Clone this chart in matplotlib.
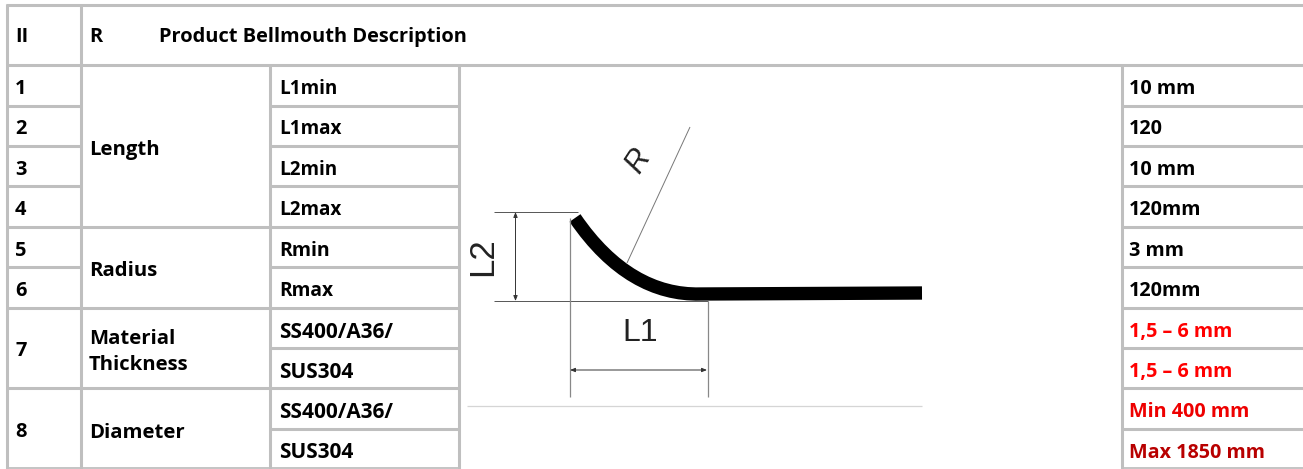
import matplotlib
matplotlib.use("Agg")
import matplotlib.pyplot as plt
from matplotlib.path import Path
from matplotlib.patches import PathPatch

plt.rcParams['font.family'] = ['Open Sans', 'DejaVu Sans']

# Table content
header_no = "II"
header_r = "R"
header_title = "Product Bellmouth Description"
row_numbers = ["1", "2", "3", "4", "5", "6", "7", "8"]
row_number_y = [89, 129, 170, 210, 251, 291, 351, 432]
groups = ["Length", "Radius", "Material\nThickness", "Diameter"]
group_y = [150, 271, 352, 433]
params = ["L1min", "L1max", "L2min", "L2max", "Rmin", "Rmax",
          "SS400/A36/", "SUS304", "SS400/A36/", "SUS304"]
param_sizes = [13.6, 13.6, 13.6, 13.6, 14, 13.8, 15, 15, 15, 15]
values = ["10 mm", "120", "10 mm", "120mm", "3 mm", "120mm",
          "1,5 – 6 mm", "1,5 – 6 mm", "Min 400 mm", "Max 1850 mm"]
value_colors = ["#000000"] * 6 + ["#ff0000", "#ff0000", "#ee0000", "#b80000"]
row_text_y = [89, 129, 170, 210, 251, 291, 332, 372, 412, 453]

# Grid geometry (pixels)
W, H = 1303, 469
col_x = [6.5, 81, 270, 459, 1122]
num_lines = [106, 146, 186, 227, 267, 308, 388]
group_lines = [227, 308, 388]
row_lines = [106, 146, 186, 227, 267, 308, 348, 388, 429]
BOTTOM = 468
GRID = "#bfbfbf"

# Drawing geometry (pixels)
curve_ctrl = [(575, 218), (612, 272), (655, 295), (700, 294)]
flat_end = (922, 293)

fig = plt.figure(figsize=(W / 100, H / 100), dpi=100)
ax = fig.add_axes([0, 0, 1, 1])
ax.set_xlim(0, W)
ax.set_ylim(H, 0)
ax.axis("off")

lw = 2.2
def hl(y, x0, x1, c=GRID, w=lw):
    ax.plot([x0, x1], [y, y], color=c, lw=w, solid_capstyle="butt")
def vl(x, y0, y1, c=GRID, w=lw):
    ax.plot([x, x], [y0, y1], color=c, lw=w, solid_capstyle="butt")

# Table grid
hl(5, 5.5, W)
hl(65, 5.5, W)
vl(col_x[0], 4, H)
vl(col_x[1], 4, H)
vl(col_x[2], 65, H)
vl(col_x[3], 65, H)
vl(col_x[4], 65, H)
for y in num_lines:
    hl(y, col_x[0], col_x[1])
for y in group_lines:
    hl(y, col_x[1], col_x[2])
for y in row_lines:
    hl(y, col_x[2], col_x[3])
    hl(y, col_x[4], W)
hl(BOTTOM, col_x[0], col_x[3], w=1.3)
hl(BOTTOM, col_x[4], W, w=1.3)

bold = dict(fontweight="bold", va="center", ha="left", color="#000000")

ax.text(15, 37, header_no, fontsize=14.4, **bold)
ax.text(89, 37, header_r, fontsize=14.4, **bold)
ax.text(159, 37, header_title, fontsize=14.4, **bold)

for t, y in zip(row_numbers, row_number_y):
    ax.text(15, y, t, fontsize=14.4, **bold)
for t, y in zip(groups, group_y):
    ax.text(89, y, t, fontsize=14.6, linespacing=1.45, **bold)
for t, y, s in zip(params, row_text_y, param_sizes):
    ax.text(279, y, t, fontsize=s, **bold)
for t, y, c in zip(values, row_text_y, value_colors):
    kw = dict(bold)
    kw["color"] = c
    ax.text(1129, y, t, fontsize=14.2, **kw)

# Bellmouth drawing
thin = dict(color="#555555", lw=0.7, solid_capstyle="butt")
ax.plot([494, 578], [212, 212], **thin)
ax.plot([494, 708], [301, 301], **thin)
ax.plot([569.5, 569.5], [218, 397], color="#888888", lw=0.9, solid_capstyle="butt")
ax.plot([707.5, 707.5], [301, 397], color="#888888", lw=0.9, solid_capstyle="butt")
ax.plot([627, 690], [263, 127], color="#777777", lw=0.7, solid_capstyle="butt")
ax.plot([467, 922], [406.5, 406.5], color="#d5d5d5", lw=0.9, solid_capstyle="butt")

arrow = dict(arrowstyle="<|-|>,head_width=0.12,head_length=0.3", color="#333333",
             lw=0.7, shrinkA=0, shrinkB=0)
ax.annotate("", xy=(515.5, 212), xytext=(515.5, 301), arrowprops=arrow)
ax.annotate("", xy=(570, 370), xytext=(707, 370), arrowprops=arrow)

codes = [Path.MOVETO, Path.CURVE4, Path.CURVE4, Path.CURVE4, Path.LINETO]
ax.add_patch(PathPatch(Path(curve_ctrl + [flat_end], codes), fill=False,
                       edgecolor="#000000", lw=9.6, capstyle="butt", joinstyle="round"))

ln = dict(family=["Liberation Sans", "DejaVu Sans"], color="#222222", ha="center", va="center")
ax.text(640, 333, "L1", fontsize=23, **ln)
ax.text(483, 257, "L2", fontsize=25, rotation=90, **ln)
ax.text(638, 161, "R", fontsize=22, rotation=57, style="italic", **ln)

fig.savefig("out.png", dpi=100)
